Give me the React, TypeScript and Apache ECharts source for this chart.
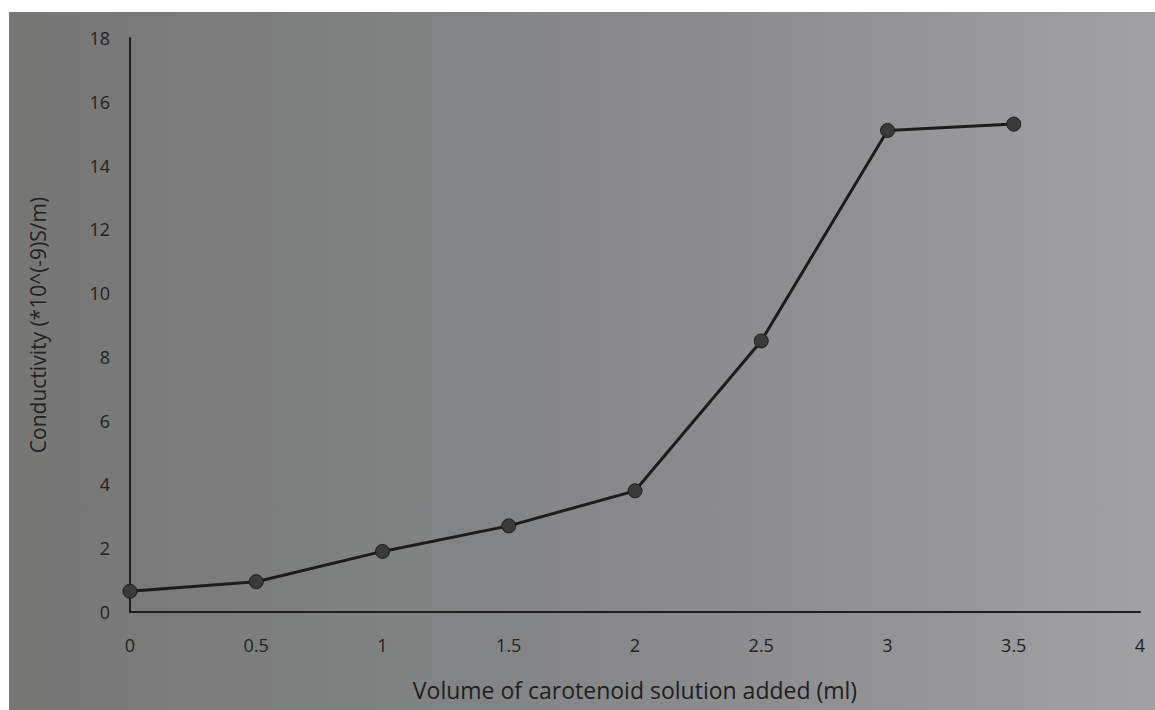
import React, { useEffect, useRef } from "react";
import * as echarts from "echarts";

const volumes = [0, 0.5, 1, 1.5, 2, 2.5, 3, 3.5];
const conductivity = [0.65, 0.95, 1.9, 2.7, 3.8, 8.5, 15.1, 15.3];
const xTitle = "Volume of carotenoid solution added (ml)";
const yTitle = "Conductivity (*10^(-9)S/m)";

export default function App() {
  const ref = useRef<HTMLDivElement>(null);
  useEffect(() => {
    if (!ref.current) return;
    const chart = echarts.init(ref.current, null, { renderer: "svg" });
    chart.setOption({
      animation: false,
      backgroundColor: "transparent",
      grid: { left: 130, right: 15, top: 38, bottom: 98 },
      xAxis: {
        type: "value",
        min: 0,
        max: 4,
        interval: 0.5,
        name: xTitle,
        nameLocation: "middle",
        nameGap: 66,
        nameTextStyle: { fontFamily: "Open Sans", fontSize: 23, color: "#1e1e1e" },
        axisLine: { show: true, lineStyle: { color: "#1e1e1e", width: 2 } },
        axisTick: { show: false },
        splitLine: { show: false },
        axisLabel: {
          fontFamily: "Open Sans",
          fontSize: 18,
          color: "#222222",
          margin: 24,
          formatter: (v: number) => String(v),
        },
      },
      yAxis: {
        type: "value",
        min: 0,
        max: 18,
        interval: 2,
        name: yTitle,
        nameLocation: "middle",
        nameGap: 82,
        nameRotate: 90,
        nameTextStyle: { fontFamily: "Open Sans", fontSize: 21, color: "#222" },
        axisLine: { show: true, lineStyle: { color: "#1e1e1e", width: 2 } },
        axisTick: { show: false },
        splitLine: { show: false },
        axisLabel: { fontFamily: "Open Sans", fontSize: 18, color: "#222222", margin: 20 },
      },
      series: [
        {
          type: "line",
          data: volumes.map((v, i) => [v, conductivity[i]]),
          symbol: "circle",
          symbolSize: 14,
          lineStyle: { color: "#1c1c1c", width: 3 },
          itemStyle: { color: "#3a3a3a", borderColor: "#1c1c1c", borderWidth: 1 },
        },
      ],
    });
    return () => chart.dispose();
  }, []);
  return (
    <div style={{ position: "fixed", left: 0, top: 0, width: 1155, height: 710, background: "#ffffff" }}>
      <div
        style={{
          position: "absolute",
          left: 9,
          top: 12,
          right: 0,
          bottom: 0,
          background: "linear-gradient(90deg, #767775 0%, #828384 40%, #8f8f91 70%, #a2a1a3 100%)",
        }}
      />
      <div ref={ref} style={{ position: "absolute", left: 0, top: 0, width: 1155, height: 710 }} />
    </div>
  );
}
